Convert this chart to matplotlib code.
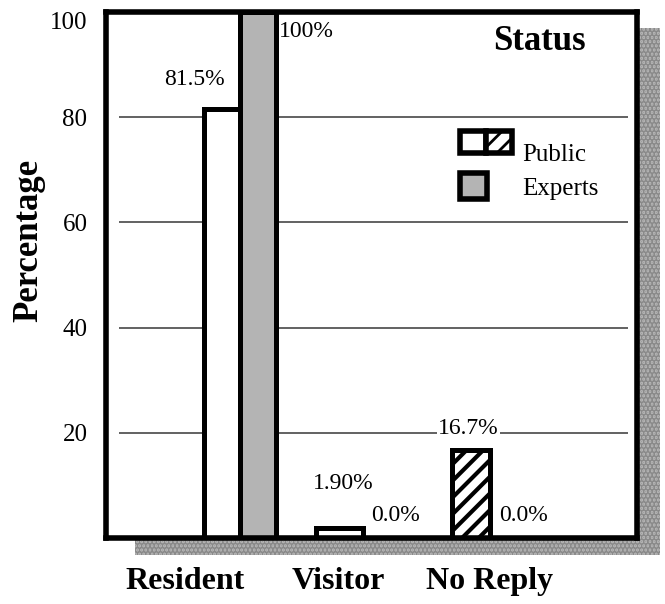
import matplotlib.pyplot as plt
from matplotlib.patches import Rectangle

plt.rcParams['font.family'] = ['Liberation Serif', 'DejaVu Serif']
plt.rcParams['hatch.linewidth'] = 3.0

categories = ['Resident', 'Visitor', 'No Reply']
public = [81.5, 1.9, 16.7]
experts = [100.0, 0.0, 0.0]
public_labels = ['81.5%', '1.90%', '16.7%']
expert_labels = ['100%', '0.0%', '0.0%']
yticks = [20, 40, 60, 80, 100]

W, H = 665, 604
fig = plt.figure(figsize=(W / 100, H / 100), dpi=100)


def fpx(x, y):
    # pixel position (from top-left) -> figure fraction
    return x / W, 1 - y / H


# plot box
left, right, top, bottom = 105.5, 637, 12, 538
ax = fig.add_axes([left / W, 1 - bottom / H, (right - left) / W, (bottom - top) / H])

# drop shadow behind the box
sx0, sy0 = fpx(135, 555)
sx1, sy1 = fpx(660, 28)
fig.patches.append(Rectangle((sx0, sy0), sx1 - sx0, sy1 - sy0,
                             transform=fig.transFigure, facecolor='#b4b4b4',
                             edgecolor='#8a8a8a', hatch='....', linewidth=0,
                             zorder=-1))
ax.set_facecolor('white')

# x in units of category spacing, origin at the first public bar
unit = 124.5
ax.set_xlim((left - 222) / unit, (right - 222) / unit)
ax.set_ylim(0, 100)

pub_x = [0.0, 0.944, 2.0]
widths = [0.289, 0.378, 0.305]
hatches = ['', '', '//']

ax.hlines(yticks[:-1], -0.83, 3.26, color='#555555', linewidth=1.3, zorder=0.5)

for i in range(len(categories)):
    ax.bar(pub_x[i], public[i], width=widths[i], color='white',
           edgecolor='black', linewidth=3.6, hatch=hatches[i], zorder=2)
    if experts[i] > 0:
        ax.bar(pub_x[i] + widths[i], experts[i], width=widths[i],
               color='#b4b4b4', edgecolor='black', linewidth=3.6, zorder=2)

# value labels
lab_fs = 17
ax.text(-0.22, 87.2, public_labels[0], ha='center', va='center', fontsize=lab_fs)
ax.text(0.675, 96.2, expert_labels[0], ha='center', va='center', fontsize=lab_fs)
ax.text(0.97, 10.3, public_labels[1], ha='center', va='center', fontsize=lab_fs)
ax.text(1.39, 4.3, expert_labels[1], ha='center', va='center', fontsize=lab_fs)
ax.text(1.98, 20.8, public_labels[2], ha='center', va='center', fontsize=lab_fs,
        bbox=dict(facecolor='white', edgecolor='none', pad=0.5))
ax.text(2.418, 4.3, expert_labels[2], ha='center', va='center', fontsize=lab_fs)

for s in ax.spines.values():
    s.set_linewidth(4.0)
    s.set_zorder(3)

ax.set_yticks(yticks)
ax.set_yticklabels([str(v) for v in yticks], fontsize=18)
ax.get_yticklabels()[-1].set_va('top')
ax.tick_params(axis='y', length=0, pad=13)

ax.set_xticks([-0.297, 0.932, 2.153])
ax.set_xticklabels(categories, fontsize=23, fontweight='bold')
ax.tick_params(axis='x', length=0, pad=21)

fig.text(*fpx(29, 240), 'Percentage', rotation=90, ha='center', va='center',
         fontsize=25, fontweight='bold')

fig.text(*fpx(539, 42), 'Status', ha='center', va='center', fontsize=25,
         fontweight='bold')

# legend drawn by hand
def box(x0, y0, x1, y1, **kw):
    a, b = fpx(x0, y1)
    c, d = fpx(x1, y0)
    fig.patches.append(Rectangle((a, b), c - a, d - b, transform=fig.transFigure,
                                 edgecolor='black', linewidth=4.0, **kw))

plt.rcParams['hatch.linewidth'] = 2.0
box(460, 131, 486, 153, facecolor='white')
box(486, 131, 512, 153, facecolor='white', hatch='//')
box(460, 173, 487, 199, facecolor='#b4b4b4')
fig.text(*fpx(522, 155), 'Public', ha='left', va='center', fontsize=18)
fig.text(*fpx(522, 189), 'Experts', ha='left', va='center', fontsize=18)

fig.savefig('out.png', dpi=100)
